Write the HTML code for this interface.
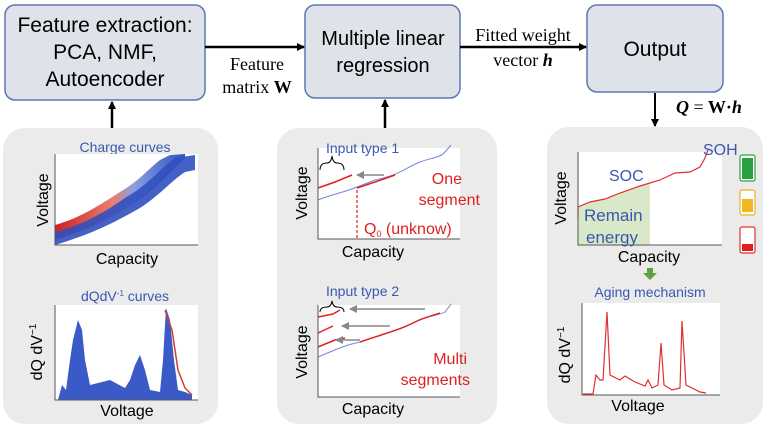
<!DOCTYPE html>
<html><head><meta charset="utf-8"><style>
html,body{margin:0;padding:0;background:#fff;}
svg{display:block;}
.s{font-family:"Liberation Sans",sans-serif;}
.t{font-family:"Liberation Serif",serif;}
</style></head><body>
<svg width="768" height="427" viewBox="0 0 768 427" xmlns="http://www.w3.org/2000/svg">
<defs>
<marker id="ah" markerWidth="8" markerHeight="8" refX="7" refY="4" orient="auto" markerUnits="userSpaceOnUse"><path d="M0,0 L8,4 L0,8 z" fill="#000"/></marker>
<marker id="ag" markerWidth="8" markerHeight="8" refX="7" refY="4" orient="auto" markerUnits="userSpaceOnUse"><path d="M0,0 L8,4 L0,8 z" fill="#888"/></marker>
<linearGradient id="rb" x1="0" y1="0" x2="1" y2="0"><stop offset="0" stop-color="#d02020"/><stop offset="0.45" stop-color="#e88070"/><stop offset="0.6" stop-color="#8aa0e0"/><stop offset="1" stop-color="#3050c0"/></linearGradient>
</defs>
<rect x="5" y="5" width="200" height="95" rx="10" fill="#dfe2e8" stroke="#5a78b0" stroke-width="1.5"/>
<text class="s" x="105" y="32" font-size="21" text-anchor="middle">Feature extraction:</text>
<text class="s" x="105" y="59" font-size="21" text-anchor="middle">PCA, NMF,</text>
<text class="s" x="105" y="86" font-size="21" text-anchor="middle">Autoencoder</text>
<rect x="305" y="5" width="155" height="93" rx="10" fill="#dfe2e8" stroke="#5a78b0" stroke-width="1.5"/>
<text class="s" x="383" y="45" font-size="20" text-anchor="middle">Multiple linear</text>
<text class="s" x="383" y="72" font-size="20" text-anchor="middle">regression</text>
<rect x="587" y="5" width="136" height="87" rx="10" fill="#dfe2e8" stroke="#5a78b0" stroke-width="1.5"/>
<text class="s" x="655" y="56" font-size="21" text-anchor="middle">Output</text>
<line x1="205" y1="47" x2="304" y2="47" stroke="#000" stroke-width="2.5" marker-end="url(#ah)"/>
<text class="t" x="257" y="70" font-size="18" text-anchor="middle">Feature</text>
<text class="t" x="257" y="93" font-size="18" text-anchor="middle">matrix <tspan font-weight="bold">W</tspan></text>
<line x1="460" y1="47" x2="586" y2="47" stroke="#000" stroke-width="2.5" marker-end="url(#ah)"/>
<text class="t" x="523" y="41" font-size="18" text-anchor="middle">Fitted weight</text>
<text class="t" x="523" y="66" font-size="18" text-anchor="middle">vector <tspan font-weight="bold" font-style="italic">h</tspan></text>
<line x1="112" y1="128" x2="112" y2="102" stroke="#000" stroke-width="2.5" marker-end="url(#ah)"/>
<line x1="385" y1="128" x2="385" y2="100" stroke="#000" stroke-width="2.5" marker-end="url(#ah)"/>
<line x1="655" y1="93" x2="655" y2="126" stroke="#000" stroke-width="2" marker-end="url(#ah)"/>
<text class="t" x="676" y="113" font-size="18" font-weight="bold"><tspan font-style="italic">Q</tspan> <tspan font-weight="normal">=</tspan> W·<tspan font-style="italic">h</tspan></text>
<rect x="3" y="128" width="215" height="296" rx="22" fill="#ebebeb"/>
<rect x="277" y="128" width="220" height="296" rx="22" fill="#ebebeb"/>
<rect x="547" y="127" width="216" height="297" rx="22" fill="#ebebeb"/>

<text class="s" x="125" y="152" font-size="14" fill="#3a58b0" text-anchor="middle">Charge curves</text>
<rect x="55" y="154" width="143" height="91" fill="#fff"/>
<path d="M55,225 C80,218 100,205 120,192 C140,180 145,172 160,160 L170,155 L185,154 L185,158 C170,172 160,185 140,200 C115,215 95,228 55,240 Z" fill="url(#rb)"/>
<path d="M55,232 C85,224 105,212 125,198 C145,186 150,180 165,166 L175,158 L195,155 L195,170 L185,172 C170,182 160,195 140,208 C115,222 95,233 55,245 Z" fill="#3050c0" opacity="0.9"/>
<path d="M55,154 L55,245 L198,245" fill="none" stroke="#555" stroke-width="1"/>
<text class="s" x="48" y="200" font-size="16" text-anchor="middle" transform="rotate(-90 48 200)">Voltage</text>
<text class="s" x="127" y="264" font-size="16" text-anchor="middle">Capacity</text>
<text class="s" x="125" y="301" font-size="14" fill="#3a58b0" text-anchor="middle">dQdV<tspan font-size="8" dy="-5">-1</tspan><tspan dy="5"> curves</tspan></text>
<rect x="55" y="305" width="143" height="95" fill="#fff"/>
<path d="M58,400 L62,385 L66,390 L70,360 L73,340 L78,320 L82,330 L85,360 L90,385 L110,380 L125,388 L130,380 L135,365 L140,355 L145,370 L150,390 L160,392 L163,360 L166,308 L170,320 L174,360 L178,390 L185,392 L192,395 L192,400 Z" fill="#3a5ac8"/>
<path d="M165,310 L172,330 L178,370 L185,388 L192,395" fill="none" stroke="#d04030" stroke-width="1.5"/>
<path d="M55,305 L55,400 L198,400" fill="none" stroke="#555" stroke-width="1"/>
<text class="s" x="42" y="352" font-size="16" text-anchor="middle" transform="rotate(-90 42 352)">dQ dV<tspan font-size="10" dy="-6">−1</tspan></text>
<text class="s" x="127" y="416" font-size="16" text-anchor="middle">Voltage</text>

<rect x="318" y="148" width="142" height="91" fill="#fff"/>
<path d="M318,200 C330,195 345,192 357,187 L375,180 C400,175 405,168 420,162 C430,158 440,158 445,152 L451,145" fill="none" stroke="#7088d8" stroke-width="1"/>
<path d="M357,188 L375,182 L395,175" fill="none" stroke="#e02020" stroke-width="1.5"/>
<path d="M318,188 L335,182 L352,175" fill="none" stroke="#e02020" stroke-width="1.5"/>
<line x1="384" y1="175" x2="357" y2="175" stroke="#888" stroke-width="1.5" marker-end="url(#ag)"/>
<line x1="357" y1="190" x2="357" y2="239" stroke="#e02020" stroke-width="1.2" stroke-dasharray="3,2"/>
<path d="M318,148 L318,239 L460,239" fill="none" stroke="#555" stroke-width="1"/>
<path d="M320,170 Q320,163 327,163 Q331,163 332,156 Q333,163 337,163 Q344,163 344,170" fill="none" stroke="#000" stroke-width="1"/>
<text class="s" x="326" y="153" font-size="14" fill="#3a58b0">Input type 1</text>
<text class="s" x="462" y="184" font-size="16" fill="#e02020" text-anchor="end">One</text>
<text class="s" x="480" y="205" font-size="16" fill="#e02020" text-anchor="end">segment</text>
<text class="s" x="364" y="234" font-size="16" fill="#e02020">Q<tspan font-size="9" dy="3">0</tspan><tspan dy="-3"> (unknow)</tspan></text>
<text class="s" x="307" y="193" font-size="16" text-anchor="middle" transform="rotate(-90 307 193)">Voltage</text>
<text class="s" x="373" y="257" font-size="16" text-anchor="middle">Capacity</text>

<rect x="318" y="305" width="142" height="92" fill="#fff"/>
<path d="M318,357 C335,350 345,345 360,342 C380,335 400,330 415,322 C430,315 440,315 445,312 L451,304" fill="none" stroke="#7088d8" stroke-width="1"/>
<path d="M360,342 C380,335 400,330 415,322 C425,317 432,316 440,313" fill="none" stroke="#e02020" stroke-width="1.5"/>
<path d="M318,317 L333,314 L340,310" fill="none" stroke="#e02020" stroke-width="1.5"/>
<path d="M318,333 L333,326" fill="none" stroke="#e02020" stroke-width="1.5"/>
<path d="M318,347 L335,340 L345,338" fill="none" stroke="#e02020" stroke-width="1.5"/>
<line x1="425" y1="309" x2="350" y2="309" stroke="#888" stroke-width="1.5" marker-end="url(#ag)"/>
<line x1="390" y1="326" x2="342" y2="326" stroke="#888" stroke-width="1.5" marker-end="url(#ag)"/>
<line x1="360" y1="340" x2="336" y2="340" stroke="#888" stroke-width="1.5" marker-end="url(#ag)"/>
<path d="M318,305 L318,397 L460,397" fill="none" stroke="#555" stroke-width="1"/>
<path d="M320,312 Q320,307 327,307 Q331,307 332,301 Q333,307 337,307 Q344,307 344,312" fill="none" stroke="#000" stroke-width="1"/>
<text class="s" x="326" y="296" font-size="14" fill="#3a58b0">Input type 2</text>
<text class="s" x="467" y="364" font-size="16" fill="#e02020" text-anchor="end">Multi</text>
<text class="s" x="470" y="385" font-size="16" fill="#e02020" text-anchor="end">segments</text>
<text class="s" x="307" y="352" font-size="16" text-anchor="middle" transform="rotate(-90 307 352)">Voltage</text>
<text class="s" x="373" y="414" font-size="16" text-anchor="middle">Capacity</text>

<rect x="578" y="152" width="144" height="93" fill="#fff"/>
<path d="M578,207 L590,202 L605,199 L620,193 L640,186 L650,182 L650,245 L578,245 Z" fill="#d8e8c8"/>
<path d="M578,218 L578,207 L590,202 L605,199 L620,193 L640,186 L660,180 L675,173 L690,172 L700,167 L705,158 L708,150" fill="none" stroke="#e03030" stroke-width="1.2"/>
<path d="M578,152 L578,245 L722,245" fill="none" stroke="#555" stroke-width="1"/>
<text class="s" x="703" y="155" font-size="16" fill="#3a58b0">SOH</text>
<text class="s" x="609" y="181" font-size="16" fill="#3a58b0">SOC</text>
<text class="s" x="584" y="221" font-size="17" fill="#3a58b0">Remain</text>
<text class="s" x="586" y="243" font-size="17" fill="#3a58b0">energy</text>
<text class="s" x="566" y="198" font-size="16" text-anchor="middle" transform="rotate(-90 566 198)">Voltage</text>
<text class="s" x="649" y="262" font-size="16" text-anchor="middle">Capacity</text>
<rect x="740" y="155" width="15" height="26" rx="2" fill="#fff" stroke="#2aa040" stroke-width="1.2"/>
<rect x="742" y="158" width="11" height="21" fill="#2aa040"/>
<rect x="740" y="190" width="15" height="25" rx="2" fill="#fff" stroke="#f0b020" stroke-width="1.2"/>
<rect x="742" y="199" width="11" height="13" fill="#f0b820"/>
<rect x="740" y="227" width="15" height="26" rx="2" fill="#fff" stroke="#e03030" stroke-width="1.2"/>
<rect x="742" y="244" width="11" height="7" fill="#e02020"/>
<path d="M647,268 L653,268 L653,273 L657,273 L650,280 L643,273 L647,273 Z" fill="#60a040"/>
<text class="s" x="650" y="297" font-size="14" fill="#3a58b0" text-anchor="middle">Aging mechanism</text>
<rect x="582" y="303" width="138" height="92" fill="#fff"/>
<path d="M583,394 L593,394 L596,375 L600,380 L603,380 L607,312 L610,375 L620,380 L625,376 L635,382 L645,386 L648,380 L652,388 L658,385 L661,343 L664,385 L672,390 L680,388 L682,321 L686,385 L700,392 L706,393" fill="none" stroke="#e03030" stroke-width="1.2"/>
<path d="M582,303 L582,395 L720,395" fill="none" stroke="#555" stroke-width="1"/>
<text class="s" x="570" y="355" font-size="16" text-anchor="middle" transform="rotate(-90 570 355)">dQ dV<tspan font-size="10" dy="-6">−1</tspan></text>
<text class="s" x="638" y="411" font-size="16" text-anchor="middle">Voltage</text>
</svg>
</body></html>
